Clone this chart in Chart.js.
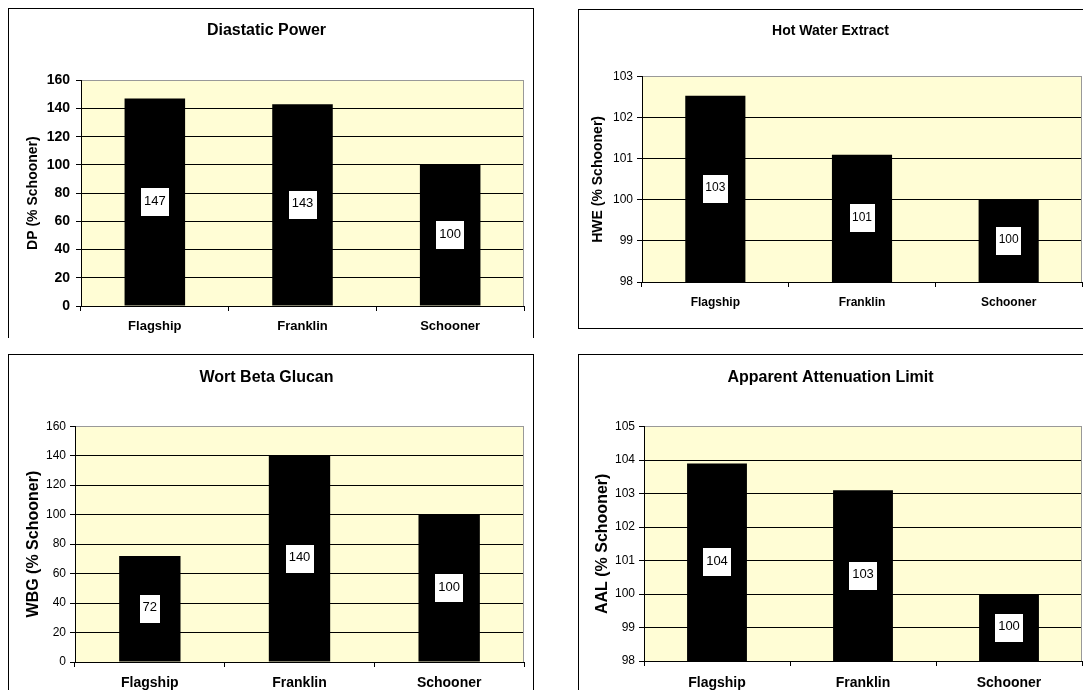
<!DOCTYPE html>
<html>
<head>
<meta charset="utf-8">
<script src="https://cdn.jsdelivr.net/npm/chart.js@4/dist/chart.umd.min.js"></script>
<style>
  html, body { margin: 0; padding: 0; background: #fff; }
  body { width: 1083px; height: 690px; overflow: hidden; position: relative; }
  .frame { position: absolute; border: 1px solid #000; box-sizing: border-box; overflow: hidden; }
  .frame canvas { display: block; }
</style>
</head>
<body>
<div class="frame" style="left:8px;top:8px;width:526px;height:330px;border-bottom:none"><canvas id="dpChart" width="524" height="329"></canvas></div>
<div class="frame" style="left:578px;top:9px;width:522px;height:320px;border-right:none"><canvas id="hweChart" width="520" height="318"></canvas></div>
<div class="frame" style="left:8px;top:354px;width:526px;height:340px;border-bottom:none"><canvas id="wbgChart" width="524" height="338"></canvas></div>
<div class="frame" style="left:578px;top:354px;width:522px;height:340px;border-bottom:none;border-right:none"><canvas id="aalChart" width="520" height="338"></canvas></div>
<script>
const categories = ['Flagship', 'Franklin', 'Schooner'];

const dpValues  = [147, 143, 100];
const hweValues = [102.54, 101.1, 100];
const wbgValues = [72, 140, 100];
const aalValues = [103.9, 103.1, 100];

// y axis: min, max, step
const dpAxis  = [0, 160, 20];
const hweAxis = [98, 103, 1];
const wbgAxis = [0, 160, 20];
const aalAxis = [98, 105, 1];

Chart.defaults.font.family = 'Arial, "Liberation Sans", sans-serif';
Chart.defaults.color = '#000';

// pale yellow plot area + grey right edge
const plotBg = {
  id: 'plotBg',
  beforeDraw(chart) {
    const { ctx, chartArea: a } = chart;
    ctx.save();
    ctx.fillStyle = '#FFFDD5';
    ctx.fillRect(a.left, a.top, a.right - a.left, a.bottom - a.top);
    ctx.restore();
  },
  beforeDatasetsDraw(chart) {
    const { ctx, chartArea: a } = chart;
    ctx.save();
    ctx.strokeStyle = '#999';
    ctx.lineWidth = 1;
    ctx.beginPath();
    ctx.moveTo(a.right - 0.5, a.top);
    ctx.lineTo(a.right - 0.5, a.bottom);
    ctx.stroke();
    ctx.restore();
  }
};

// white boxed value label in the middle of the visible part of each bar
const barLabels = {
  id: 'barLabels',
  afterDatasetsDraw(chart, args, opts) {
    const { ctx, chartArea } = chart;
    const values = chart.data.datasets[0].data;
    ctx.save();
    ctx.font = opts.size + 'px Arial, "Liberation Sans", sans-serif';
    ctx.textAlign = 'center';
    ctx.textBaseline = 'middle';
    chart.getDatasetMeta(0).data.forEach((bar, i) => {
      const text = String(Math.round(values[i]));
      const w = Math.round(ctx.measureText(text).width + opts.padX * 2);
      const h = 28;
      const base = Math.min(bar.base, chartArea.bottom);
      const cy = (bar.y + base) / 2;
      ctx.fillStyle = '#fff';
      ctx.fillRect(Math.round(bar.x - w / 2), Math.round(cy - h / 2), w, h);
      ctx.fillStyle = '#000';
      ctx.fillText(text, bar.x, cy - 1);
    });
    ctx.restore();
  }
};

function makeChart(id, values, axis, t) {
  return new Chart(document.getElementById(id), {
    type: 'bar',
    data: {
      labels: categories,
      datasets: [{ data: values, backgroundColor: '#000', barPercentage: 0.41, categoryPercentage: 1 }]
    },
    options: {
      responsive: false,
      animation: false,
      layout: { padding: { top: t.padTop, right: t.padRight, left: 0, bottom: 0 } },
      plugins: {
        legend: { display: false },
        tooltip: { enabled: false },
        title: {
          display: true, text: t.title, color: '#000',
          font: { size: t.titleSize, weight: 'bold' },
          padding: { top: 0, bottom: t.titleGap }
        },
        barLabels: { size: t.labelSize, padX: t.labelPad }
      },
      scales: {
        x: {
          grid: { offset: true, drawOnChartArea: false, color: '#000', tickLength: 5 },
          border: { color: '#000' },
          ticks: { color: '#000', padding: t.xPad, font: { size: t.xSize, weight: 'bold' } },
          afterFit: s => { s.height = t.xHeight; }
        },
        y: {
          min: axis[0], max: axis[1],
          ticks: { stepSize: axis[2], color: '#000', padding: t.yPad, font: { size: t.ySize, weight: t.yBold ? 'bold' : 'normal' } },
          grid: {
            color: c => (c.tick && c.tick.value === axis[1]) ? '#999' : '#000',
            tickColor: '#000', tickLength: 5
          },
          border: { color: '#000' },
          title: {
            display: true, text: t.yTitle, color: '#000',
            font: { size: t.yTitleSize, weight: 'bold' },
            padding: { top: t.yTitlePad, bottom: 0 }
          },
          afterFit: s => { s.width = t.yWidth; }
        }
      }
    },
    plugins: [plotBg, barLabels]
  });
}

makeChart('dpChart', dpValues, dpAxis, {
  title: 'Diastatic Power', titleSize: 16, padTop: 12, titleGap: 40, padRight: 9,
  yTitle: 'DP (% Schooner)', yTitleSize: 14, yTitlePad: 16, yWidth: 72,
  ySize: 14, yBold: true, yPad: 6, xSize: 13, xPad: 8, xHeight: 32,
  labelSize: 13, labelPad: 3
});

makeChart('hweChart', hweValues, hweAxis, {
  title: 'Hot Water Extract', titleSize: 14, padTop: 13, titleGap: 37, padRight: 17,
  yTitle: 'HWE (% Schooner)', yTitleSize: 14, yTitlePad: 11, yWidth: 63,
  ySize: 12, yBold: false, yPad: 4, xSize: 12, xPad: 8, xHeight: 46,
  labelSize: 12, labelPad: 2.5
});

makeChart('wbgChart', wbgValues, wbgAxis, {
  title: 'Wort Beta Glucan', titleSize: 16, padTop: 13, titleGap: 39, padRight: 9,
  yTitle: 'WBG (% Schooner)', yTitleSize: 16, yTitlePad: 15, yWidth: 66,
  ySize: 12, yBold: false, yPad: 4, xSize: 14, xPad: 8, xHeight: 31,
  labelSize: 13, labelPad: 3
});

makeChart('aalChart', aalValues, aalAxis, {
  title: 'Apparent Attenuation Limit', titleSize: 16, padTop: 13, titleGap: 39.5, padRight: 17,
  yTitle: 'AAL (% Schooner)', yTitleSize: 16, yTitlePad: 14, yWidth: 65,
  ySize: 12, yBold: false, yPad: 4, xSize: 14, xPad: 9, xHeight: 32,
  labelSize: 13, labelPad: 3
});
</script>
</body>
</html>
